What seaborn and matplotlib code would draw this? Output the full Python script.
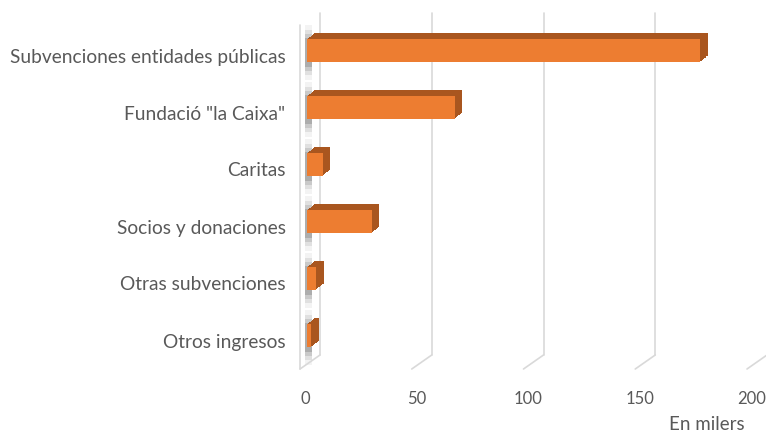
import numpy as np
import pandas as pd
import matplotlib
matplotlib.use("Agg")
import matplotlib.pyplot as plt
import matplotlib.transforms as mtransforms
import matplotlib.patheffects as pe
import seaborn as sns

# data (en milers)
categorias = ["Subvenciones entidades públicas", 'Fundació "la Caixa"', "Caritas",
              "Socios y donaciones", "Otras subvenciones", "Otros ingresos"]
importes = [176, 66, 7, 29, 4, 2]
ticks_x = [0, 50, 100, 150, 200]

df = pd.DataFrame({"categoria": categorias, "importe": importes})

sns.set_theme(style="white")
plt.rcParams["font.family"] = ["Lato", "DejaVu Sans"]

gris = "#595959"
linea = "#D9D9D9"
naranja = "#ED7D31"
sombra = "#A9561F"

fig = plt.figure(figsize=(7.66, 4.36), dpi=100)
ax = fig.add_axes([305 / 766, 1 - 369 / 436, 447 / 766, 342 / 436])

sns.barplot(data=df, y="categoria", x="importe", orient="h", color=naranja,
            width=0.4, saturation=1, ax=ax, zorder=3)

# fake 3D depth: shift bars up a bit and extrude them with stacked shadows
desplaza = mtransforms.ScaledTranslation(2 / 100, 5 / 100, fig.dpi_scale_trans)
extrusion = [pe.SimplePatchShadow(offset=(0.55 * k, 0.45 * k), shadow_rgbFace=sombra,
                                  alpha=1.0) for k in range(10, 0, -1)]
for p in ax.patches:
    p.set_transform(ax.transData + desplaza)
    p.set_linewidth(0)
    p.set_path_effects(extrusion + [pe.Normal()])

ax.set_xlim(0, 200)
ax.set_ylim(5.5, -0.5)
ax.set_xlabel("")
ax.set_ylabel("")
ax.set_xticks(ticks_x)
ax.set_xticklabels([str(t) for t in ticks_x])
ax.tick_params(axis="x", length=0, labelsize=12, colors=gris, pad=16)
ax.tick_params(axis="y", length=0, labelsize=13.8, colors=gris, pad=14)
for s in ax.spines.values():
    s.set_visible(False)
ax.grid(False)

# back wall gridlines + floor slants (perspective offsets in pixels)
blend = mtransforms.blended_transform_factory(ax.transData, ax.transAxes)
def px(dx, dy):
    return blend + mtransforms.ScaledTranslation(dx / 100, dy / 100, fig.dpi_scale_trans)

def diagonal(t):
    ax.annotate("", xy=(t, 0), xycoords=px(-5, 0), xytext=(t, 0),
                textcoords=px(15, 14),
                arrowprops=dict(arrowstyle="-", color=linea, lw=1.2,
                                shrinkA=0, shrinkB=0))

for t in ticks_x[1:]:
    ax.plot([t, t], [0, 1], transform=px(15, 14), color=linea, lw=1.2,
            clip_on=False, zorder=1)
    diagonal(t)

# left wall
ax.plot([0, 0], [0, 1], transform=px(15, 14), color=linea, lw=1.2, clip_on=False, zorder=1)
ax.plot([0, 0], [0, 1.006], transform=px(-5, 0), color=linea, lw=1.2,
        clip_on=False, zorder=1)
diagonal(0)

# soft shadows on the wall where each bar meets it
for h, a in [(0.95, 0.06), (0.8, 0.1), (0.65, 0.14), (0.5, 0.2)]:
    muro = ax.barh(np.arange(len(categorias)), 3.2, left=-0.2, height=h,
                   color="#404040", alpha=a, zorder=2, linewidth=0, clip_on=False)
    for p in muro:
        p.set_transform(ax.transData + mtransforms.ScaledTranslation(
            0, 3 / 100, fig.dpi_scale_trans))

fig.text(745 / 766, 1 - 424 / 436, "En milers", ha="right", va="center",
         fontsize=13.5, color=gris)

fig.savefig("out.png", dpi=100)
